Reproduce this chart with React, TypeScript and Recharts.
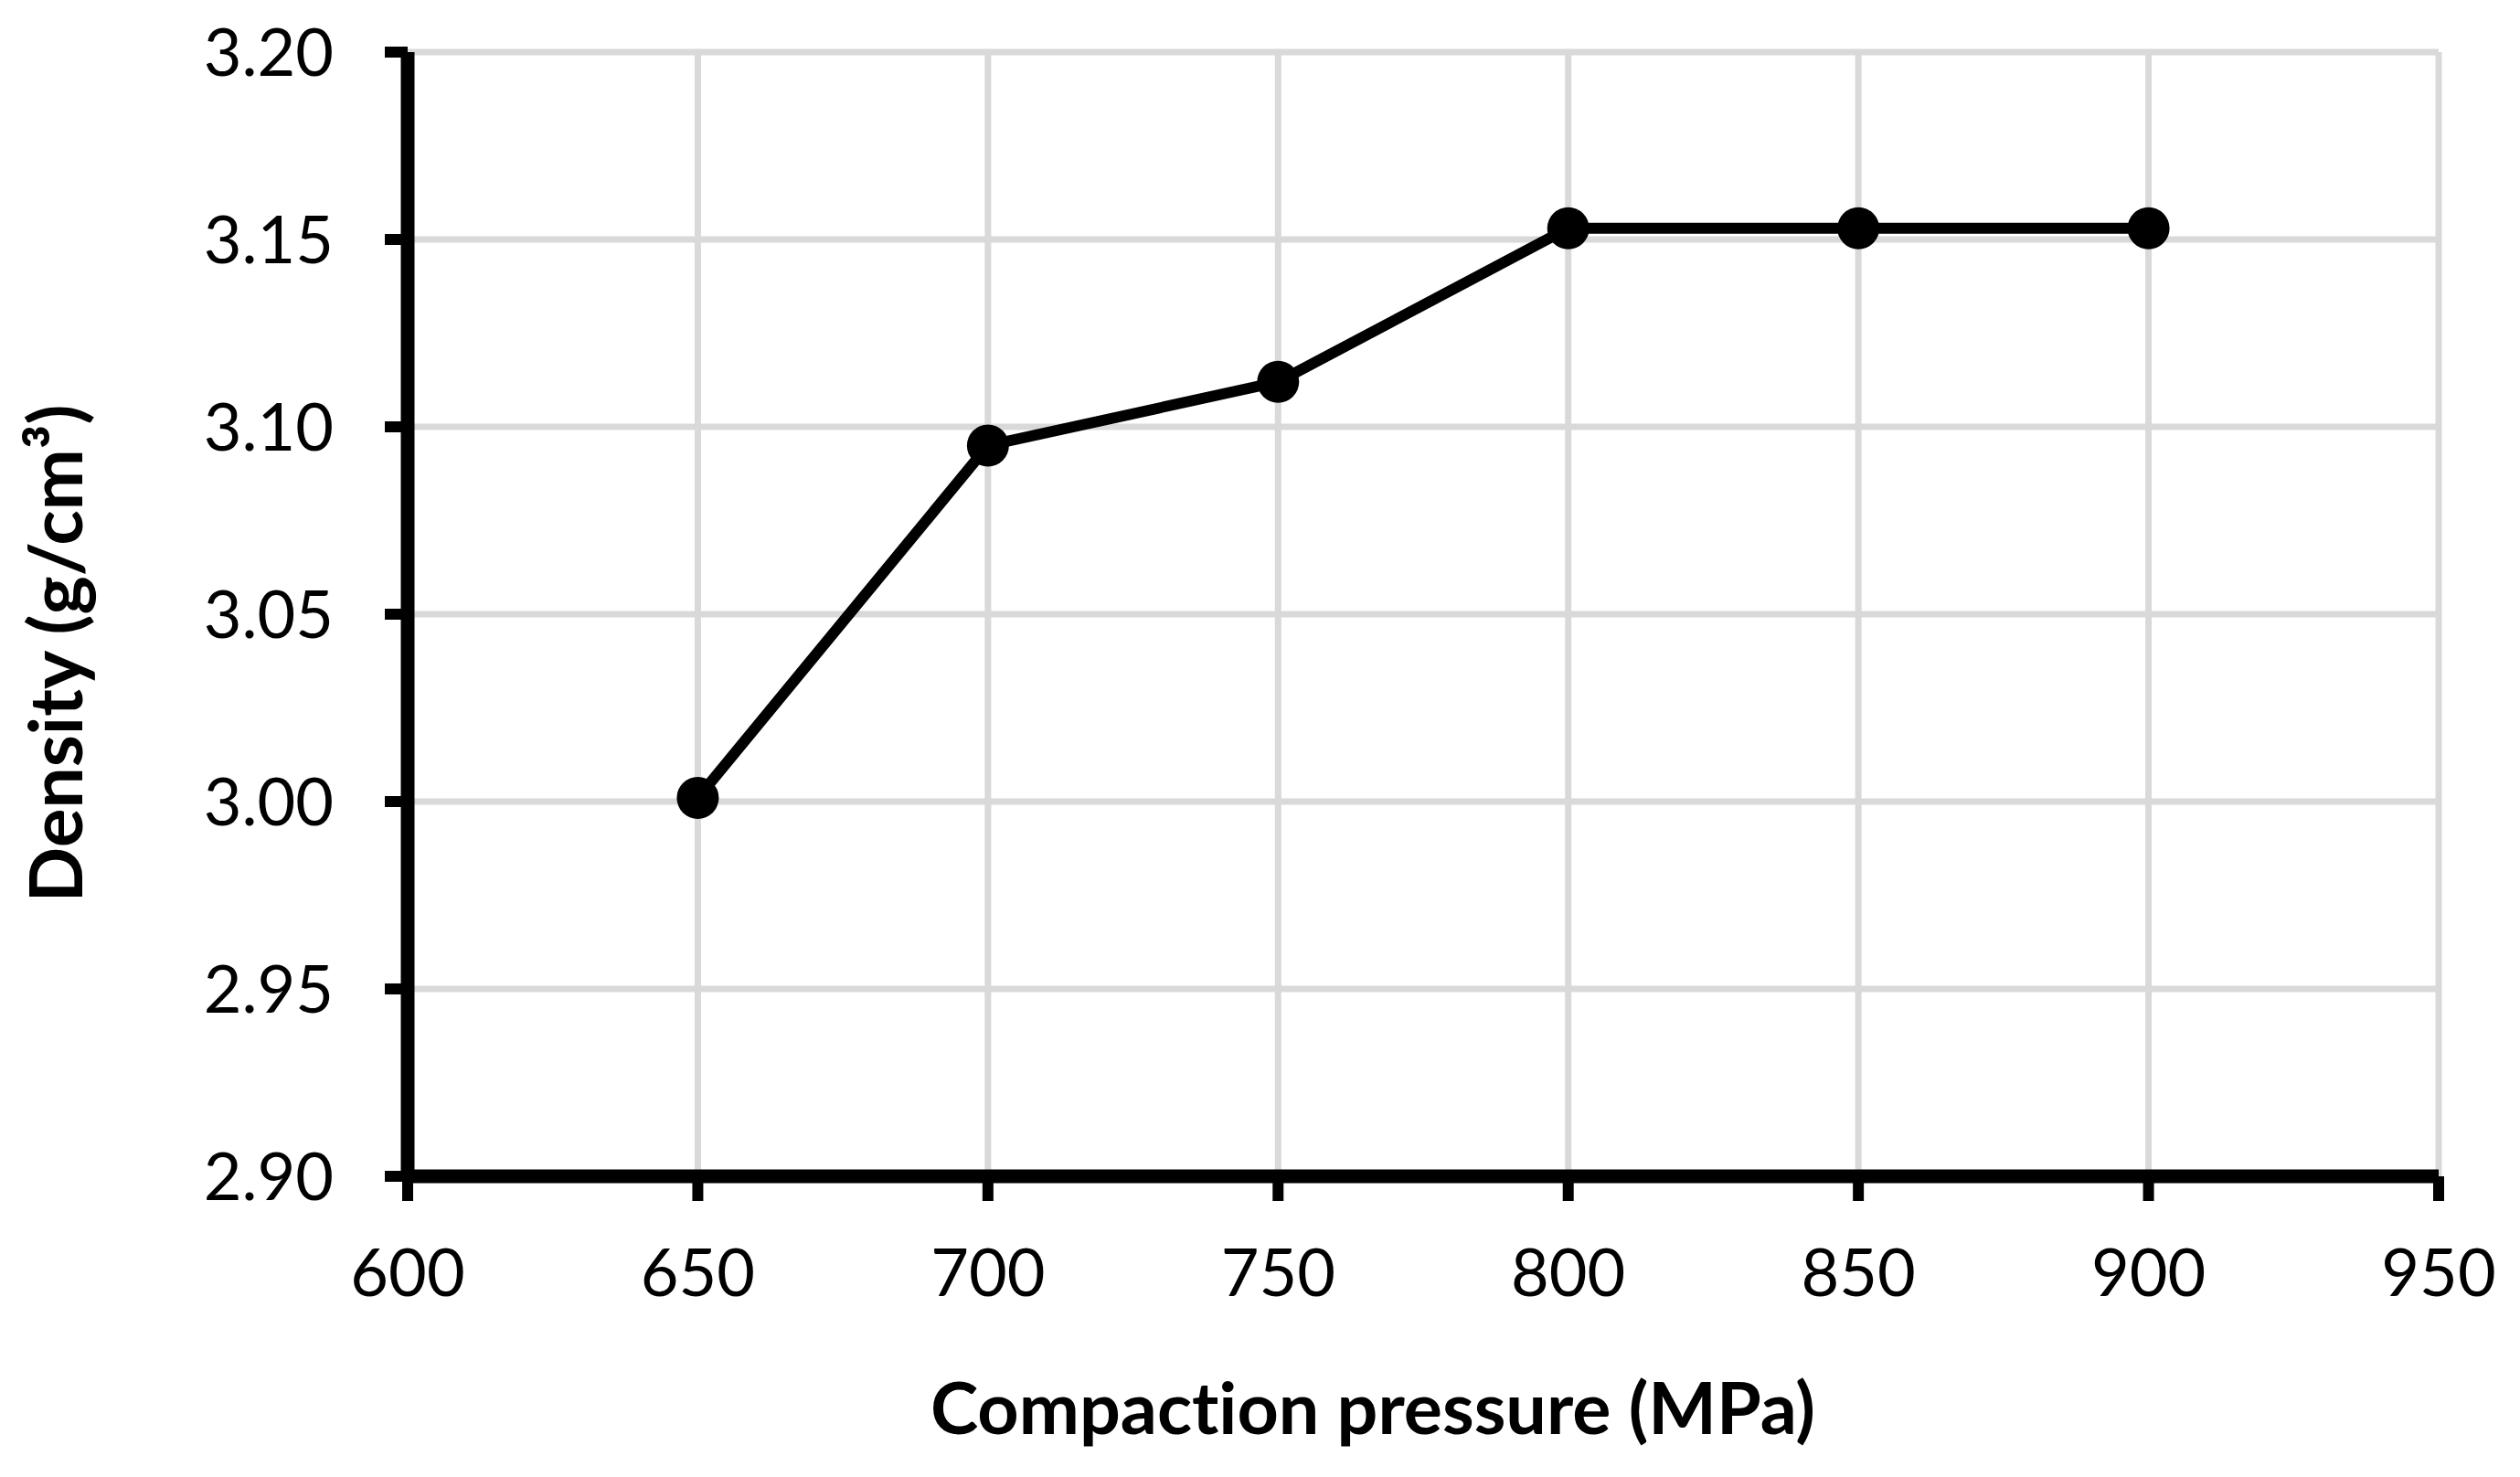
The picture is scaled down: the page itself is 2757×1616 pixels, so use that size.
import React from 'react';
import { LineChart, Line, XAxis, YAxis, CartesianGrid } from 'recharts';

const pressures = [650, 700, 750, 800, 850, 900];
const densities = [3.001, 3.095, 3.112, 3.153, 3.153, 3.153];
const xTicks = [600, 650, 700, 750, 800, 850, 900, 950];
const yTicks = [2.9, 2.95, 3.0, 3.05, 3.1, 3.15, 3.2];
const xTitle = 'Compaction pressure (MPa)';
const yTitle = 'Density (g/cm³)';

const data = pressures.map((p, i) => ({ pressure: p, density: densities[i] }));

const font = 'Lato, "Open Sans", sans-serif';

const XTitle = (props: any) => {
  const { viewBox } = props;
  return (
    <text
      x={viewBox.x + viewBox.width / 2 - 55}
      y={viewBox.y + 282}
      textAnchor="middle"
      fontFamily={font}
      fontWeight={700}
      fontSize={79}
      fill="#000"
      style={{ fontVariantLigatures: 'none' }}
    >
      {xTitle}
    </text>
  );
};

const YTitle = (props: any) => {
  const { viewBox } = props;
  const cx = 82;
  const cy = viewBox.y + viewBox.height / 2 + 43;
  return (
    <text
      x={cx}
      y={cy}
      transform={`rotate(-90, ${cx}, ${cy})`}
      textAnchor="middle"
      fontFamily={font}
      fontWeight={700}
      fontSize={80}
      fill="#000"
    >
      {yTitle}
    </text>
  );
};

const App: React.FC = () => {
  return (
    <div style={{ width: 2741, height: 1600, background: '#fff' }}>
      <LineChart
        width={2741}
        height={1600}
        data={data}
        margin={{ top: 49, right: 81, bottom: 0, left: 0 }}
      >
        <CartesianGrid stroke="#d9d9d9" strokeWidth={7} />
        <XAxis
          type="number"
          dataKey="pressure"
          domain={[600, 950]}
          ticks={xTicks}
          interval={0}
          height={321}
          axisLine={{ stroke: '#000', strokeWidth: 15 }}
          tickLine={{ stroke: '#000', strokeWidth: 12 }}
          tickSize={27}
          tickMargin={53}
          tick={{ fontSize: 72, fill: '#000', fontFamily: font }}
          label={<XTitle />}
        />
        <YAxis
          type="number"
          domain={[2.9, 3.2]}
          ticks={yTicks}
          interval={0}
          width={438}
          axisLine={{ stroke: '#000', strokeWidth: 15 }}
          tickLine={{ stroke: '#000', strokeWidth: 12 }}
          tickSize={25}
          tickMargin={56}
          tickFormatter={(v: number) => v.toFixed(2)}
          tick={{ fontSize: 72, fill: '#000', fontFamily: font }}
          label={<YTitle />}
        />
        <Line
          type="linear"
          dataKey="density"
          stroke="#000"
          strokeWidth={12}
          dot={{ r: 23, fill: '#000', stroke: 'none' }}
          activeDot={false}
          isAnimationActive={false}
        />
      </LineChart>
    </div>
  );
};

export default App;
